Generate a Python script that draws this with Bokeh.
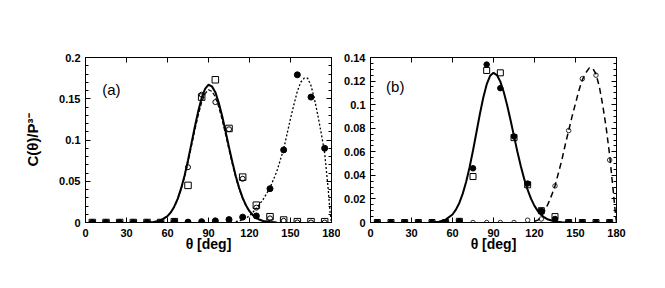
from bokeh.plotting import figure
from bokeh.layouts import row
from bokeh.models import Range1d, LinearAxis, FixedTicker, CustomJSTickFormatter, Label
from bokeh.embed import file_html
from bokeh.resources import INLINE

# ---------------- data ----------------
theta = [5, 15, 25, 35, 45, 55, 65, 75, 85, 95, 105, 115, 125, 135, 145, 155, 165, 175]

# panel (a) markers
a_open_sq = [0, 0, 0, 0, 0, 0, 0.001, 0.045, 0.152, 0.173, 0.114, 0.055, 0.021, 0.007, 0.003, 0.001, 0.001, 0.001]
a_open_circ = [0, 0, 0, 0, 0, 0, 0.001, 0.067, 0.155, 0.146, 0.113, 0.053, 0.018, 0.005, 0.002, 0, 0, 0]
a_filled = [0, 0, 0, 0, 0, 0, 0.001, 0.0005, 0.001, 0.002, 0.0035, 0.0065, 0.008, 0.041, 0.088, 0.179, 0.152, 0.09]

# panel (a) curves
a_solid_x = [45, 50, 55, 60, 62.5, 65, 67.5, 70, 72.5, 75, 77.5, 80, 82.5, 85, 87.5, 90, 92.5, 95, 97.5, 100,
             102.5, 105, 107.5, 110, 112.5, 115, 117.5, 120, 122.5, 125, 127.5, 130, 135, 140]
a_solid_y = [0, 0.0007, 0.0026, 0.0077, 0.0125, 0.0195, 0.029, 0.0416, 0.057, 0.0755, 0.0956, 0.116, 0.135, 0.151,
             0.162, 0.167, 0.165, 0.158, 0.145, 0.129, 0.1105, 0.0914, 0.073, 0.056, 0.0417, 0.0298, 0.0206,
             0.0137, 0.0088, 0.0055, 0.0033, 0.0019, 0.0006, 0]
a_dash_y = [0, 0.0007, 0.0025, 0.0074, 0.012, 0.0188, 0.028, 0.0401, 0.055, 0.0728, 0.0922, 0.1118, 0.130, 0.1456,
            0.1562, 0.161, 0.159, 0.1523, 0.1398, 0.1244, 0.1065, 0.0881, 0.0704, 0.054, 0.0402, 0.0287, 0.0199,
            0.0132, 0.0085, 0.0053, 0.0032, 0.0018, 0.0006, 0]
a_dot_x = [110, 115, 120, 125, 130, 135, 140, 145, 150, 152.5, 155, 157.5, 160, 162.5, 165, 167.5, 170, 172.5,
           175, 177.5, 179, 180]
a_dot_y = [0.001, 0.003, 0.008, 0.017, 0.028, 0.042, 0.062, 0.089, 0.126, 0.143, 0.159, 0.17, 0.175, 0.175,
           0.166, 0.15, 0.13, 0.108, 0.084, 0.042, 0.012, 0]

# panel (b) markers
b_filled = [0, 0, 0, 0, 0, 0, 0.001, 0.046, 0.134, 0.114, 0.073, 0.033, 0.01, 0.003, 0, 0, 0, 0]
b_open_sq = [0, 0, 0, 0, 0, 0, 0.001, 0.039, 0.129, 0.127, 0.072, 0.032, 0.01, 0.005, 0, 0, 0, 0]
b_open_circ = [0, 0, 0, 0, 0, 0, 0, 0, 0, 0, 0, 0.002, 0.003, 0.031, 0.078, 0.122, 0.125, 0.053]

# panel (b) curves
b_solid_x = [45, 50, 55, 60, 62.5, 65, 67.5, 70, 72.5, 75, 77.5, 80, 82.5, 85, 87.5, 90, 92.5, 95, 97.5, 100,
             102.5, 105, 107.5, 110, 112.5, 115, 117.5, 120, 122.5, 125, 127.5, 130, 135, 140, 145]
b_solid_y = [0.0002, 0.0007, 0.0024, 0.0068, 0.0109, 0.0166, 0.0245, 0.0346, 0.0469, 0.0611, 0.0764, 0.0918,
             0.1058, 0.1171, 0.1245, 0.127, 0.1251, 0.1195, 0.1107, 0.0995, 0.0867, 0.0733, 0.0601, 0.0478,
             0.0368, 0.0276, 0.02, 0.0141, 0.0096, 0.0064, 0.0041, 0.0025, 0.0009, 0.0003, 0]
b_dash_x = [120, 122.5, 125, 127.5, 130, 132.5, 135, 137.5, 140, 142.5, 145, 147.5, 150, 152.5, 155, 157.5, 160,
            162.5, 165, 167.5, 170, 172.5, 175, 177.5, 179, 180]
b_dash_y = [0.001, 0.002, 0.005, 0.01, 0.016, 0.023, 0.031, 0.042, 0.053, 0.066, 0.078, 0.09, 0.101, 0.112,
            0.121, 0.127, 0.131, 0.131, 0.126, 0.115, 0.099, 0.08, 0.057, 0.028, 0.01, 0]

x_ticks = [0, 30, 60, 90, 120, 150, 180]
a_y_ticks = [0, 0.05, 0.1, 0.15, 0.2]
b_y_ticks = [0, 0.02, 0.04, 0.06, 0.08, 0.1, 0.12, 0.14]

FONT = "Liberation Sans"
fmt_code = "return String(parseFloat(tick.toFixed(4)));"
blank_code = "return '';"


def style_axis(ax, ticks, minor, labels=True, standoff=5):
    ax.ticker = FixedTicker(ticks=ticks, minor_ticks=minor)
    ax.formatter = CustomJSTickFormatter(code=fmt_code if labels else blank_code)
    ax.major_tick_in = 5
    ax.major_tick_out = 0
    ax.minor_tick_in = 3
    ax.minor_tick_out = 0
    ax.axis_line_color = "black"
    ax.major_tick_line_color = "black"
    ax.minor_tick_line_color = "black"
    ax.major_label_text_font = FONT
    ax.major_label_text_font_style = "bold"
    ax.major_label_text_font_size = "11px"
    ax.major_label_text_color = "black"
    ax.major_label_standoff = standoff if labels else 0
    ax.axis_label_text_font = FONT
    ax.axis_label_text_font_size = "14px"
    ax.axis_label_text_font_style = "bold"
    ax.axis_label_text_color = "black"


def make_fig(ymax, yticks, yminor, left, right):
    p = figure(frame_width=246, frame_height=165, x_range=Range1d(0, 180), y_range=Range1d(0, ymax),
               output_backend="svg", toolbar_location=None,
               min_border_left=left, min_border_right=right, min_border_top=57, min_border_bottom=48)
    p.grid.visible = False
    p.outline_line_color = "black"
    p.background_fill_color = "white"
    p.border_fill_color = "white"
    style_axis(p.xaxis[0], x_ticks, [], standoff=6)
    style_axis(p.yaxis[0], yticks, yminor, standoff=5)
    p.xaxis[0].axis_label = "θ [deg]"
    p.xaxis[0].axis_label_standoff = -4
    top = LinearAxis()
    style_axis(top, x_ticks, [], labels=False)
    p.add_layout(top, "above")
    rt = LinearAxis()
    style_axis(rt, yticks, yminor, labels=False)
    p.add_layout(rt, "right")
    return p


a_minor = [i * 0.01 for i in range(21)]
b_minor = [i * 0.005 for i in range(29)]

pa = make_fig(0.2, a_y_ticks, a_minor, 85, 9)
pa.yaxis[0].axis_label = "C(θ)/P³⁻"
pa.yaxis[0].axis_label_text_font_size = "15px"
pa.yaxis[0].axis_label_standoff = 15

pa.line(a_solid_x, a_solid_y, line_color="black", line_width=2)
pa.line(a_solid_x, a_dash_y, line_color="black", line_width=1.2, line_dash="4 2")
pa.line(a_dot_x, a_dot_y, line_color="black", line_width=1.3, line_dash="2 2")
pa.scatter(theta, a_open_sq, marker="square", size=6.5, fill_color=None, line_color="black", line_width=1)
pa.scatter(theta, a_open_circ, marker="circle", size=5, fill_color=None, line_color="black", line_width=1)
pa.scatter(theta, a_filled, marker="circle", size=6, fill_color="black", line_color="black")
pa.add_layout(Label(x=12.2, y=0.1617, text="(a)", text_font=FONT, text_font_size="15px",
                    text_baseline="alphabetic", text_color="black"))

pb = make_fig(0.14, b_y_ticks, b_minor, 30, 35)
pb.line(b_solid_x, b_solid_y, line_color="black", line_width=2)
pb.line(b_dash_x, b_dash_y, line_color="black", line_width=1.5, line_dash="6 4")
pb.scatter(theta, b_open_sq, marker="square", size=6, fill_color=None, line_color="black", line_width=1)
pb.scatter(theta, b_open_circ, marker="circle", size=4.5, fill_color=None, line_color="black", line_width=0.8)
pb.scatter(theta, b_filled, marker="circle", size=5.5, fill_color="black", line_color="black")
pb.add_layout(Label(x=11.4, y=0.115, text="(b)", text_font=FONT, text_font_size="15px",
                    text_baseline="alphabetic", text_color="black"))

layout = row(pa, pb)
open("out.html", "w").write(file_html(layout, INLINE))
